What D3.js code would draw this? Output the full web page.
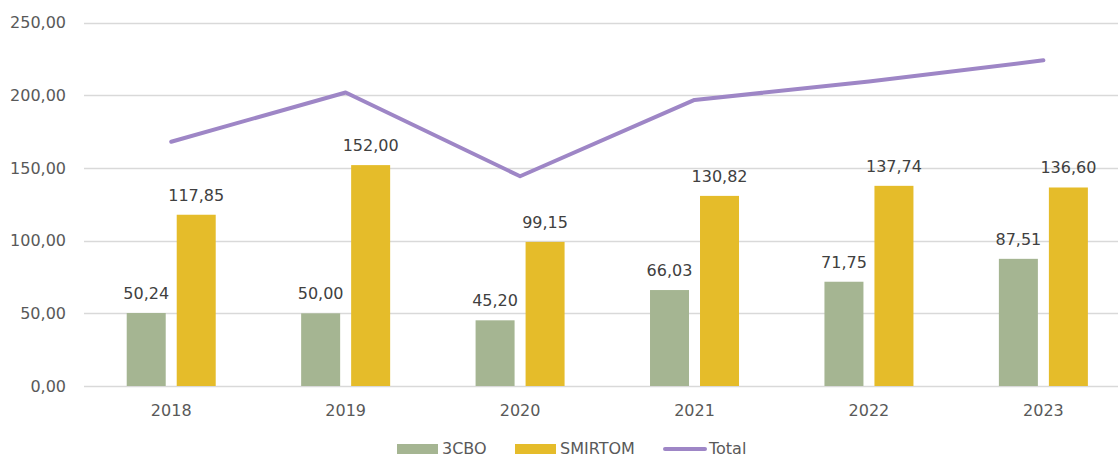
<!DOCTYPE html>
<html>
<head>
<meta charset="utf-8">
<script src="https://cdn.jsdelivr.net/npm/d3@7"></script>
<style>
  html, body { margin: 0; padding: 0; background: #fff; }
  svg { display: block; font-family: "DejaVu Sans", sans-serif; }
</style>
</head>
<body>
<svg id="chart"></svg>
<script>
const years = ["2018", "2019", "2020", "2021", "2022", "2023"];
const cbo = [50.24, 50.00, 45.20, 66.03, 71.75, 87.51];
const smirtom = [117.85, 152.00, 99.15, 130.82, 137.74, 136.60];
const total = [168.09, 202.00, 144.35, 196.85, 209.49, 224.11];
const yTicks = [0, 50, 100, 150, 200, 250];
const seriesNames = ["3CBO", "SMIRTOM", "Total"];

const width = 1118, height = 457;
const colors = { cbo: "#a5b592", smirtom: "#e5bc2a", total: "#9e86c6" };

const fmt = v => d3.format(".2f")(v).replace(".", ",");

const svg = d3.select("#chart").attr("width", width).attr("height", height);

const x = d3.scaleBand().domain(years).range([84, 1130.6]);
const y = d3.scaleLinear().domain([0, 250]).range([386, 22.7]);

const barW = 39, barGap = 11;

// gridlines
svg.append("g")
  .selectAll("line")
  .data(yTicks)
  .join("line")
  .attr("x1", 84).attr("x2", width)
  .attr("y1", d => Math.round(y(d)) + 0.5).attr("y2", d => Math.round(y(d)) + 0.5)
  .attr("stroke", "#d9d9d9").attr("stroke-width", 1.3);

// y labels
svg.append("g")
  .selectAll("text")
  .data(yTicks)
  .join("text")
  .attr("x", 66).attr("y", d => y(d))
  .attr("dy", "0.36em")
  .attr("text-anchor", "end")
  .attr("font-size", 16).attr("fill", "#595959")
  .text(d => fmt(d));

// x labels
svg.append("g")
  .selectAll("text")
  .data(years)
  .join("text")
  .attr("x", d => x(d) + x.bandwidth() / 2).attr("y", 416)
  .attr("text-anchor", "middle")
  .attr("font-size", 16).attr("fill", "#595959")
  .text(d => d);

const cx = d => x(d) + x.bandwidth() / 2;
const bars = [
  { vals: cbo, color: colors.cbo, off: -barGap / 2 - barW },
  { vals: smirtom, color: colors.smirtom, off: barGap / 2 }
];

bars.forEach(s => {
  svg.append("g")
    .selectAll("rect")
    .data(years)
    .join("rect")
    .attr("x", (d, i) => cx(d) + s.off)
    .attr("y", (d, i) => y(s.vals[i]))
    .attr("width", barW)
    .attr("height", (d, i) => y(0) - y(s.vals[i]))
    .attr("fill", s.color);

  svg.append("g")
    .selectAll("text")
    .data(years)
    .join("text")
    .attr("x", (d, i) => cx(d) + s.off + barW / 2)
    .attr("y", (d, i) => y(s.vals[i]) - 14)
    .attr("text-anchor", "middle")
    .attr("font-size", 16).attr("fill", "#404040")
    .text((d, i) => fmt(s.vals[i]));
});

// total line
const line = d3.line()
  .x((d, i) => cx(years[i]))
  .y(d => y(d));

svg.append("path")
  .datum(total)
  .attr("d", line)
  .attr("fill", "none")
  .attr("stroke", colors.total)
  .attr("stroke-width", 4)
  .attr("stroke-linecap", "round")
  .attr("stroke-linejoin", "round");

// legend
const lg = svg.append("g");
const ly = 452;
lg.append("rect").attr("x", 397).attr("y", ly - 8).attr("width", 41).attr("height", 10).attr("fill", colors.cbo);
lg.append("text").attr("x", 442).attr("y", ly).attr("dy", "0.1em").attr("font-size", 16).attr("fill", "#595959").text(seriesNames[0]);
lg.append("rect").attr("x", 515).attr("y", ly - 8).attr("width", 41).attr("height", 10).attr("fill", colors.smirtom);
lg.append("text").attr("x", 560).attr("y", ly).attr("dy", "0.1em").attr("font-size", 16).attr("fill", "#595959").text(seriesNames[1]);
lg.append("line").attr("x1", 665).attr("x2", 705).attr("y1", ly - 3).attr("y2", ly - 3)
  .attr("stroke", colors.total).attr("stroke-width", 4).attr("stroke-linecap", "round");
lg.append("text").attr("x", 709).attr("y", ly).attr("dy", "0.1em").attr("font-size", 16).attr("fill", "#595959").text(seriesNames[2]);
</script>
</body>
</html>
